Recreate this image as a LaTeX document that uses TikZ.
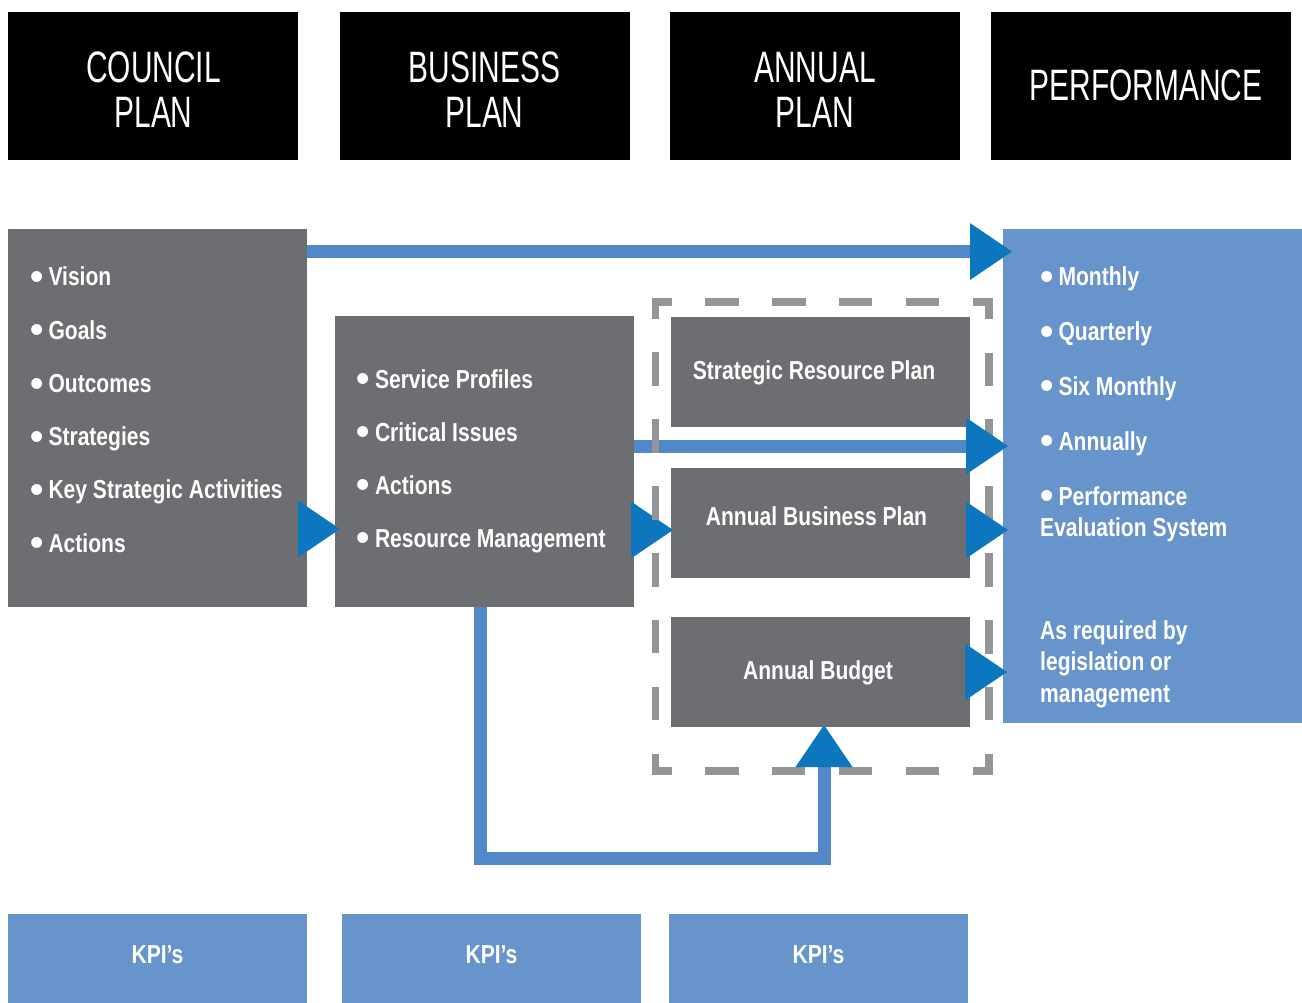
\documentclass[tikz,border=0pt]{standalone}
\usepackage{fontspec}
\usetikzlibrary{arrows.meta,calc}
\newfontfamily\headfont{Liberation Sans}[FakeStretch=0.68]
\newfontfamily\bodyfont{Liberation Sans Bold}[FakeStretch=0.81]
\newfontfamily\dotfont{Liberation Sans Bold}
\definecolor{boxgray}{HTML}{6D6E71}
\definecolor{panelblue}{HTML}{6794CB}
\definecolor{lineblue}{HTML}{5288C7}
\definecolor{tipblue}{HTML}{0C76BF}
\definecolor{dashgray}{HTML}{939598}
% large round bullet used in the lists
\newcommand\bul{\raisebox{-3.7pt}{\dotfont\fontsize{38}{38}\selectfont •}\hspace{5pt}}
\begin{document}
\begin{tikzpicture}[x=1pt,y=-1pt,
  box/.style={anchor=north west,inner sep=0pt,outer sep=0pt},
  headbox/.style={box,fill=black},
  graybox/.style={box,fill=boxgray},
  bluebox/.style={box,fill=panelblue},
  headtext/.style={anchor=base,inner sep=0pt,text=white,font=\headfont\fontsize{44}{45}\selectfont},
  bodytext/.style={inner sep=0pt,text=white,font=\bodyfont\fontsize{26}{31.5}\selectfont},
  item/.style={bodytext,anchor=base west,align=left},
  label/.style={bodytext,anchor=base},
  flow/.style={draw=lineblue,line width=13pt,line join=miter,
    -{Triangle[length=42pt,width=57pt,color=tipblue,line width=0pt]}},
  groupline/.style={draw=dashgray,line width=7.5pt,line join=miter,
    dash pattern=on 33.44pt off 33.44pt}]
\useasboundingbox (0,0) rectangle (1302,1003);

% column headings
\node[headbox,minimum width=290pt,minimum height=148pt] (hcouncil) at (8,12) {};
\node[headbox,minimum width=290pt,minimum height=148pt] (hbusiness) at (340,12) {};
\node[headbox,minimum width=290pt,minimum height=148pt] (hannual) at (670,12) {};
\node[headbox,minimum width=300pt,minimum height=148pt] (hperf) at (991,12) {};
\node[headtext] (tcouncil1) at (153.5,83) {COUNCIL};
\node[headtext] (tcouncil2) at (153.5,128) {PLAN};
\node[headtext] (tbusiness1) at (484.5,83) {BUSINESS};
\node[headtext] (tbusiness2) at (484.5,128) {PLAN};
\node[headtext] (tannual1) at (815,83) {ANNUAL};
\node[headtext] (tannual2) at (815,128) {PLAN};
\node[headtext] (tperf) at (1146,101) {PERFORMANCE};

% content boxes
\node[graybox,minimum width=299pt,minimum height=378pt] (council) at (8,229) {};
\node[graybox,minimum width=299pt,minimum height=291pt] (business) at (335,316) {};
\node[graybox,minimum width=299pt,minimum height=110pt] (srp) at (671,317) {};
\node[graybox,minimum width=299pt,minimum height=110pt] (abp) at (671,468) {};
\node[graybox,minimum width=299pt,minimum height=110pt] (budget) at (671,617) {};
\node[bluebox,minimum width=299pt,minimum height=494pt] (perf) at (1003,229) {};

% KPI boxes
\node[bluebox,minimum width=299pt,minimum height=89pt] (kpi1) at (8,914) {};
\node[bluebox,minimum width=299pt,minimum height=89pt] (kpi2) at (342,914) {};
\node[bluebox,minimum width=299pt,minimum height=89pt] (kpi3) at (669,914) {};
\node[label] (kpitext1) at (157.5,963) {KPI’s};
\node[label] (kpitext2) at (491.5,963) {KPI’s};
\node[label] (kpitext3) at (818.5,963) {KPI’s};

% council plan list
\node[item] (cv) at (30,286) {\bul Vision};
\node[item] (cg) at (30,339) {\bul Goals};
\node[item] (co) at (30,392.5) {\bul Outcomes};
\node[item] (cs) at (30,445.5) {\bul Strategies};
\node[item] (ck) at (30,498.5) {\bul Key Strategic Activities};
\node[item] (ca) at (30,552) {\bul Actions};

% business plan list
\node[item] (bs) at (356.5,388) {\bul Service Profiles};
\node[item] (bc) at (356.5,441) {\bul Critical Issues};
\node[item] (ba) at (356.5,494) {\bul Actions};
\node[item] (br) at (356.5,547) {\bul Resource Management};

% annual plan boxes
\node[label] (srptext) at (814,379) {Strategic Resource Plan};
\node[label] (abptext) at (816.5,525) {Annual Business Plan};
\node[label] (budgettext) at (818,679) {Annual Budget};

% performance list (multi-line nodes sit on their last baseline)
\node[item] (pm) at (1040,286) {\bul Monthly};
\node[item] (pq) at (1040,340.5) {\bul Quarterly};
\node[item] (ps) at (1040,395) {\bul Six Monthly};
\node[item] (pa) at (1040,450) {\bul Annually};
\node[item] (pp) at (1040,536.5) {\bul Performance\\Evaluation System};
\node[item] (pl) at (1040,702) {As required by\\legislation or\\management};

% dashed grouping frame around the annual plan
\coordinate (gNW) at (655.5,302);
\coordinate (gNE) at (989,302);
\coordinate (gSE) at (989,771);
\coordinate (gSW) at (655.5,771);
\coordinate (gN) at ($(gNW)!0.5!(gNE)$);
\draw[groupline,dash phase=50.16pt] (gN) -- (gNE) -- (gSE) -- (gSW) -- (gNW) -- cycle;

% connectors
\draw[flow] ($(council.north east)+(0,22.5)$) -- ($(perf.north west)+(9,22.5)$);
\draw[flow] ($(council.south east)+(0,-78)$) -- ($(business.south west)+(5,-78)$);
\draw[flow] ($(business.south east)+(0,-77)$) -- ($(abp.west)+(2,7)$);
\draw[flow] ($(business.north east)+(0,130)$) -- ($(perf.north west)+(5,217)$);
\draw[flow] ($(abp.east)+(0,7)$) -- ($(perf.north west)+(5,301)$);
\draw[flow] (budget.east) -- ($(perf.north west)+(4,443)$);
\coordinate (loopa) at ($(business.south west)+(145,0)$);
\coordinate (loopb) at (824,858.5);
\coordinate (loopc) at ($(budget.south)+(3.5,-2)$);
\draw[flow] (loopa) |- (loopb) -- (loopc);

% left side of the frame lies over the connector
\draw[groupline,dash phase=16.05pt] (gSW) -- (gNW);
\end{tikzpicture}
\end{document}
